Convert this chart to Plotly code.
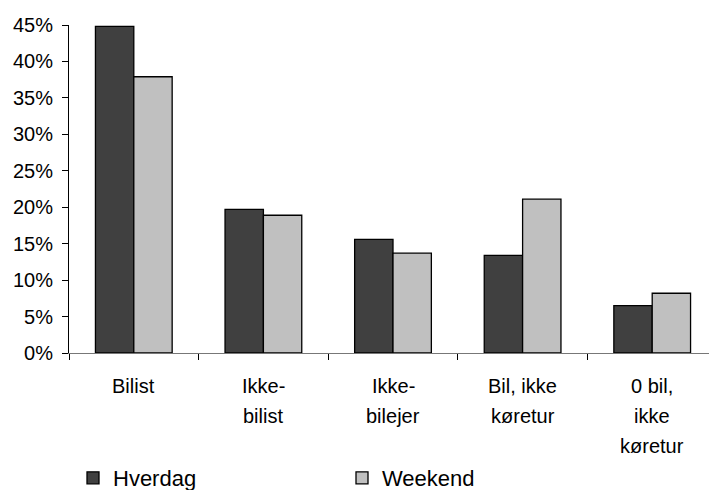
import plotly.graph_objects as go

categories = ["Bilist", "Ikke-bilist", "Ikke-bilejer", "Bil, ikke køretur", "0 bil, ikke køretur"]
label_lines = [["Bilist"], ["Ikke-", "bilist"], ["Ikke-", "bilejer"], ["Bil, ikke", "køretur"], ["0 bil,", "ikke", "køretur"]]
hverdag = [0.448, 0.197, 0.156, 0.134, 0.065]
weekend = [0.379, 0.189, 0.137, 0.211, 0.082]
series_names = ["Hverdag", "Weekend"]
y_ticks = [0, 0.05, 0.10, 0.15, 0.20, 0.25, 0.30, 0.35, 0.40, 0.45]

FONT = "Liberation Sans, Arial, sans-serif"
W, H = 709, 490
ML, MT, MB = 69, 25, 137
cat_px = 129.6
x_end = -0.5 + (W - ML) / cat_px

fig = go.Figure()
fig.add_trace(go.Bar(x=categories, y=hverdag, name=series_names[0],
                     marker=dict(color="#404040", line=dict(color="#000000", width=1.3))))
fig.add_trace(go.Bar(x=categories, y=weekend, name=series_names[1],
                     marker=dict(color="#c0c0c0", line=dict(color="#000000", width=1.3))))

# category labels, one annotation per line
line_shifts = [-33, -63, -93]
annotations = []
for cat, lines in zip(categories, label_lines):
    for i, ln in enumerate(lines):
        annotations.append(dict(x=cat, xref="x", y=0, yref="paper", text=ln,
                                showarrow=False, yanchor="middle", xanchor="center",
                                yshift=line_shifts[i],
                                font=dict(family=FONT, size=20, color="#000000")))

boundaries = [i - 0.5 for i in range(len(categories) + 1)]

fig.update_layout(
    width=W, height=H,
    margin=dict(l=ML, r=0, t=MT, b=MB, autoexpand=False),
    paper_bgcolor="white", plot_bgcolor="white",
    barmode="group", bargap=0.408, bargroupgap=0,
    showlegend=True,
    legend=dict(orientation="h", xref="container", yref="container",
                x=73 / W, xanchor="left", y=1 - 457 / H, yanchor="top",
                font=dict(family=FONT, size=22, color="#000000"),
                entrywidth=224, traceorder="normal", bgcolor="rgba(0,0,0,0)"),
    xaxis=dict(type="category", range=[-0.5, x_end], tickson="boundaries",
               ticks="outside", ticklen=6, tickwidth=1, tickcolor="#000000",
               showticklabels=False, showline=True, linecolor="#777777", linewidth=1,
               showgrid=False, zeroline=False, fixedrange=True),
    xaxis2=dict(overlaying="x", anchor="y", side="bottom", range=[-0.5, x_end],
                tickmode="array", tickvals=boundaries, ticks="inside", ticklen=6,
                tickwidth=1, tickcolor="#000000", showticklabels=False,
                showline=False, showgrid=False, zeroline=False),
    yaxis=dict(range=[0, 0.45], tickmode="array", tickvals=y_ticks, tickformat=".0%",
               ticks="outside", ticklen=6, tickwidth=1, tickcolor="#000000",
               ticklabelstandoff=5,
               tickfont=dict(family=FONT, size=20, color="#000000"),
               showline=True, linecolor="#000000", linewidth=1,
               showgrid=False, zeroline=False),
    yaxis2=dict(overlaying="y", anchor="x", side="left", range=[0, 0.45],
                tickmode="array", tickvals=y_ticks, ticks="inside", ticklen=6,
                tickwidth=1, tickcolor="#000000", showticklabels=False,
                showline=False, showgrid=False, zeroline=False),
    annotations=annotations,
    font=dict(family=FONT, color="#000000"),
)

fig.write_html("out.html", config={"displayModeBar": False},
               post_script="document.body.style.margin='0';document.body.style.overflow='hidden';")
